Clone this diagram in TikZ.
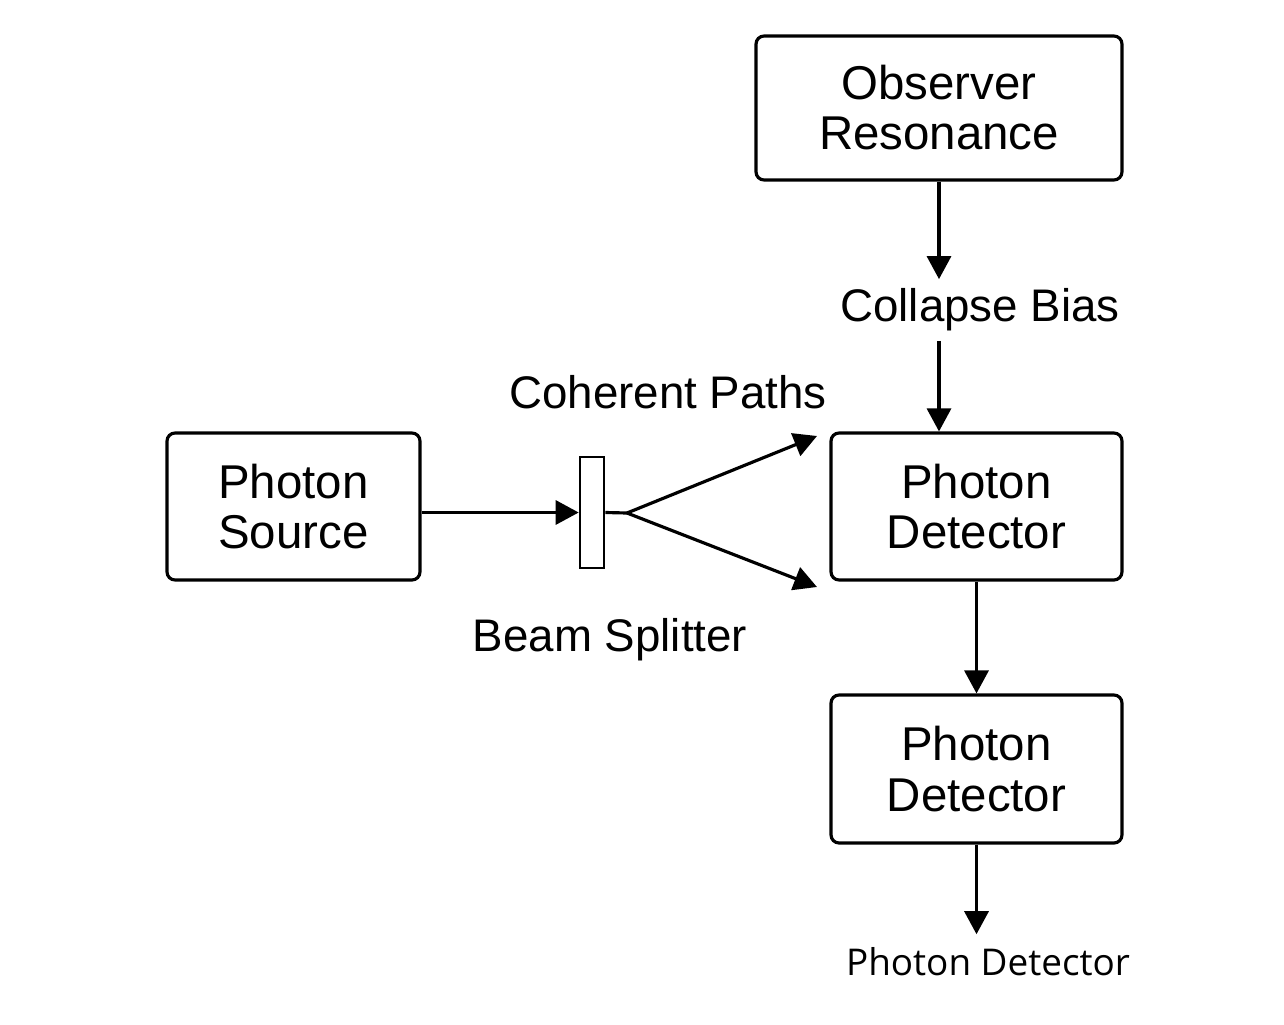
\documentclass[tikz,border=0pt]{standalone}
\usepackage{fontspec}
\setmainfont{Liberation Sans}
\newfontfamily\outfont{Open Sans}
\usetikzlibrary{arrows.meta}

\begin{document}
\begin{tikzpicture}[
	x = 0.02cm, y = -0.02cm,
	> = {Triangle[length=4.6mm, width=4.8mm]}, line width=1.8pt,
	block/.style = {draw, rounded corners=1.6mm, align=center,
		font=\fontsize{27}{28.5}\selectfont, inner sep=0mm},
	plain/.style = {draw=none, fill=none, inner sep=1.6mm,
		font=\fontsize{26}{28}\selectfont},
	split/.style = {draw, rectangle, inner sep=0mm, line width=1.5pt,
		minimum width=4.8mm, minimum height=22.2mm},
	]
	\useasboundingbox (0,0) rectangle (1284,1024);
	% boxes
	\node[block, minimum width=73.2mm, minimum height=28.8mm] (obs) at (939,108) {Observer\\Resonance};
	\node[block, minimum width=50.6mm, minimum height=29.4mm] (src) at (293.5,506.5) {Photon\\Source};
	\node[block, minimum width=58.2mm, minimum height=29.4mm] (det1) at (976.5,506.5) {Photon\\Detector};
	\node[block, minimum width=58.2mm, minimum height=29.6mm] (det2) at (976.5,769) {Photon\\Detector};
	\node[split] (bs) at (592,512.5) {};
	% labels
	\node[plain] (bias) at (980,310) {Collapse Bias};
	\node[plain] (coh) at (668,392) {Coherent Paths};
	\node[plain] (bsl) at (610,640) {Beam Splitter};
	\node[plain, inner sep=2.4mm, font=\outfont\fontsize{21}{24}\selectfont] (out) at (988,962) {Photon Detector};
	\coordinate (sp) at (627,513);
	\coordinate (up) at (817,436);
	\coordinate (dn) at (817,587);
	% arrows
	\draw[->] (obs.south) -- (obs.south |- bias.north);
	\draw[->] (obs.south |- bias.south) -- (obs.south |- det1.north);
	\draw[->] (src.east |- bs.west) -- (bs.west);
	\draw (bs.east) -- (sp);
	\draw[->] (sp) -- (up);
	\draw[->] (sp) -- (dn);
	\draw[->] (det1.south) -- (det2.north);
	\draw[->] (det2.south) -- (det2.south |- out.north);
\end{tikzpicture}
\end{document}
